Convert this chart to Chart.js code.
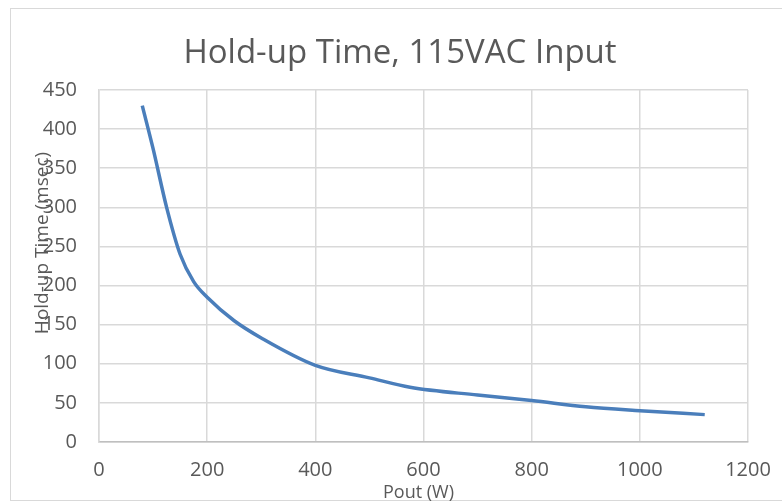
<!DOCTYPE html>
<html>
<head>
<meta charset="utf-8">
<script src="https://cdn.jsdelivr.net/npm/chart.js@4.4.0/dist/chart.umd.min.js"></script>
<style>
    html, body { margin: 0; padding: 0; background: #fff; }
    #frame {
        position: absolute; left: 10px; top: 8px; width: 800px; height: 491px;
        border: 1px solid #d9d9d9; background: #fff;
    }
    #chart { position: absolute; left: 0; top: 0; }
</style>
</head>
<body>
<div id="frame"></div>
<canvas id="chart" width="782" height="501"></canvas>
<script>
// values
const poutW = [80, 100, 125, 150, 175, 200, 250, 300, 400, 500, 575, 700, 800, 900, 1000, 1120];
const holdupMs = [430, 375, 300, 240, 205, 185, 155, 133, 98, 82, 70, 60, 53, 45, 40, 35];

const chartTitle = 'Hold-up Time, 115VAC Input';
const xTitle = 'Pout (W)';
const yTitle = 'Hold-up Time (msec)';

const fontFamily = '"Open Sans", "Liberation Sans", sans-serif';
const textColor = '#595959';
const gridColor = '#d9d9d9';

// Excel puts the titles where it likes: chart title centred on the whole frame,
// y title overlapping the tick labels
const chartTexts = {
    id: 'chartTexts',
    afterDraw(chart) {
        const { ctx, chartArea } = chart;
        ctx.save();
        ctx.fillStyle = textColor;
        ctx.textAlign = 'center';
        ctx.textBaseline = 'middle';
        ctx.font = `33px ${fontFamily}`;
        ctx.fillText(chartTitle, 400, 54);
        ctx.font = `18px ${fontFamily}`;
        ctx.fillText(xTitle, (chartArea.left + chartArea.right) / 2 - 5, chartArea.bottom + 51);
        ctx.font = `19px ${fontFamily}`;
        ctx.translate(chartArea.left - 56, chartArea.top + 153);
        ctx.rotate(-Math.PI / 2);
        ctx.fillText(yTitle, 0, 0);
        ctx.restore();
    },
};

new Chart(document.getElementById('chart'), {
    type: 'scatter',
    data: {
        datasets: [{
            data: poutW.map((x, i) => ({ x, y: holdupMs[i] })),
            showLine: true,
            borderColor: '#4a7ebb',
            borderWidth: 3.5,
            pointRadius: 0,
            cubicInterpolationMode: 'monotone',
        }],
    },
    options: {
        responsive: false,
        animation: false,
        layout: { padding: { top: 90, right: 34, bottom: 0, left: 0 } },
        plugins: {
            legend: { display: false },
            tooltip: { enabled: false },
            title: { display: false },
        },
        scales: {
            x: {
                type: 'linear',
                min: 0,
                max: 1200,
                ticks: {
                    stepSize: 200,
                    padding: 16,
                    maxRotation: 0,
                    color: textColor,
                    font: { family: fontFamily, size: 20 },
                    callback: (v) => String(v),
                },
                grid: { color: gridColor, lineWidth: 1.5, drawTicks: false },
                border: { color: '#bfbfbf', width: 1.5 },
                afterFit: (scale) => {
                    scale.height = 59;
                    scale.paddingRight = 0;
                },
            },
            y: {
                min: 0,
                max: 450,
                ticks: {
                    stepSize: 50,
                    padding: 22,
                    color: textColor,
                    font: { family: fontFamily, size: 20 },
                    callback: (v) => String(v),
                },
                grid: { color: gridColor, lineWidth: 1.5, drawTicks: false },
                border: { color: gridColor, width: 1.5 },
                afterFit: (scale) => { scale.width = 99; },
            },
        },
    },
    plugins: [chartTexts],
});
</script>
</body>
</html>
